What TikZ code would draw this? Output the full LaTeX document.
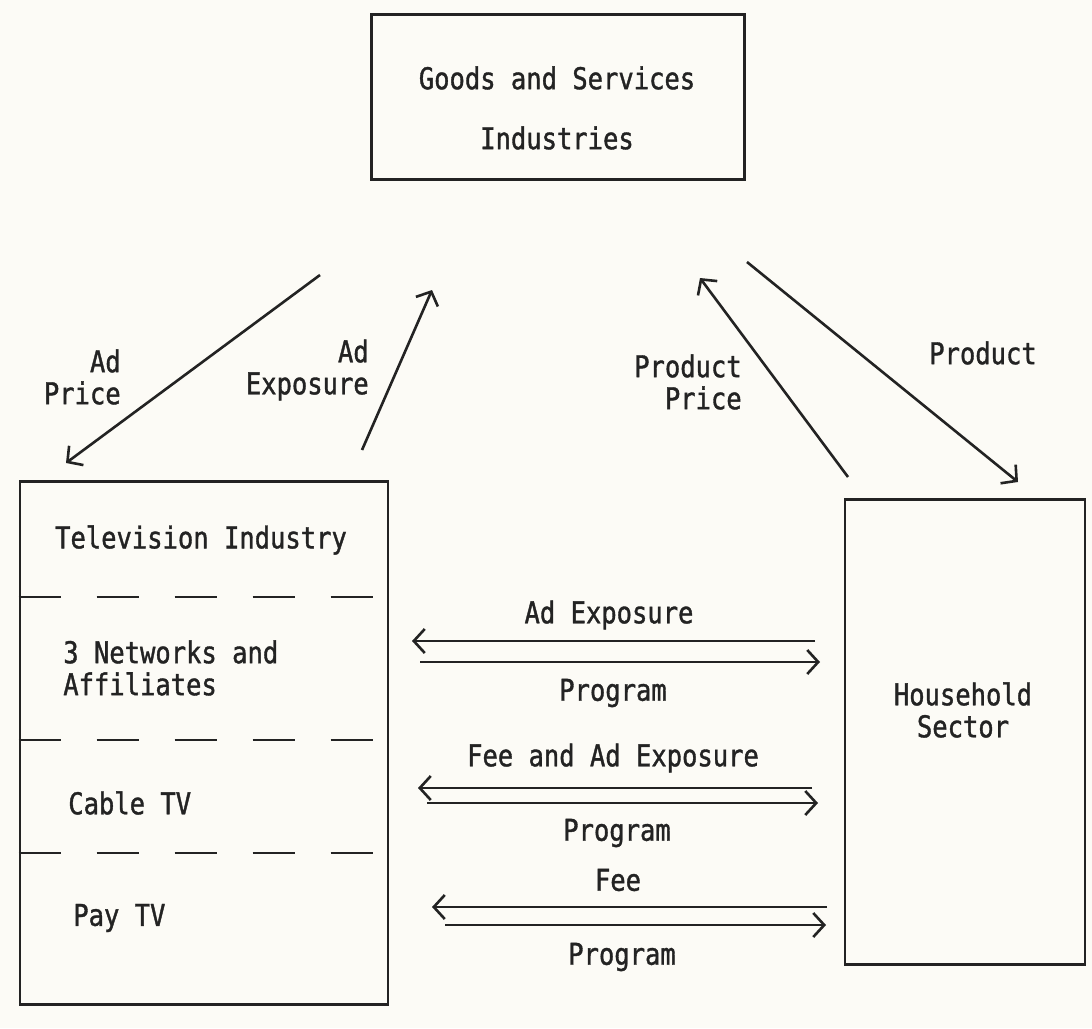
\documentclass[tikz,border=0pt]{standalone}
\usepackage{fontspec}
\setmonofont[FakeStretch=0.85,FakeBold=1.2]{DejaVu Sans Mono}
\usepackage{tikz}
\usetikzlibrary{arrows.meta,positioning}
\definecolor{ink}{RGB}{35,35,35}
\definecolor{paper}{RGB}{252,251,246}
\tikzset{box/.style={draw=ink,line width=2.7pt,rectangle,inner sep=0pt},
  txt/.style={text=ink,font=\ttfamily\fontsize{30}{32}\selectfont,inner sep=0pt}}

\begin{document}
\begin{tikzpicture}[x=1pt, y=-1pt, >={Straight Barb[length=11pt,width=24pt]}, line width=2.6pt, color=ink]
    \fill[paper] (0,0) rectangle (1092,1028);

    % sectors
    \node[box, minimum width=373pt, minimum height=165pt] (G) at (558,97) {};
    \node[txt, align=center] (Gt) at (557,108) {Goods and Services\\[28pt]Industries};
    \node[box, minimum width=368pt, minimum height=523pt] (T) at (204,743) {};
    \node[box, minimum width=240pt, minimum height=465pt] (H) at (965,732) {};
    \node[txt, align=center] (Ht) at (963,710) {Household\\Sector};

    % television industry and its parts
    \foreach \y in {597,740,853}
        \draw[dash pattern=on 42pt off 36pt, line width=2.6pt] (T.west |- 0,\y) -- (T.east |- 0,\y);
    \node[txt] (Tt) at (201,540) {Television Industry};
    \node[txt, anchor=west, align=left] (N) at (62,668) {3 Networks and\\Affiliates};
    \node[txt, anchor=west] (C) at (67,803) {Cable TV};
    \node[txt, anchor=west] (P) at (72,918) {Pay TV};

    % goods and services market
    \coordinate (a1) at (320,275);
    \coordinate (a2) at (66,463);
    \coordinate (b1) at (362,450);
    \coordinate (b2) at (432,290);
    \coordinate (c1) at (848,477);
    \coordinate (c2) at (700,278);
    \coordinate (d1) at (747,262);
    \coordinate (d2) at (1018,482);
    \path[->] (a1) edge (a2);
    \path[->] (b1) edge (b2);
    \path[->] (c1) edge (c2);
    \path[->] (d1) edge (d2);
    \node[txt, anchor=east, align=right] (AP) at (122,377) {Ad\\Price};
    \node[txt, anchor=east, align=right] (AE) at (370,370) {Ad\\Exposure};
    \node[txt, anchor=east, align=right] (PP) at (743,382) {Product\\Price};
    \node[txt] (PR) at (983,353) {Product};

    % television market
    \coordinate (e1) at (815,641);
    \coordinate (e2) at (412,641);
    \coordinate (e3) at (420,662);
    \coordinate (e4) at (820,662);
    \path[->] (e1) edge (e2);
    \path[->] (e3) edge (e4);
    \node[txt] (E1) at (609,615) {Ad Exposure};
    \node[txt] (E2) at (613,693) {Program};

    \coordinate (f1) at (812,788);
    \coordinate (f2) at (418,788);
    \coordinate (f3) at (427,803);
    \coordinate (f4) at (818,803);
    \path[->] (f1) edge (f2);
    \path[->] (f3) edge (f4);
    \node[txt] (F1) at (613,758) {Fee and Ad Exposure};
    \node[txt] (F2) at (617,833) {Program};

    \coordinate (g1) at (827,907);
    \coordinate (g2) at (432,907);
    \coordinate (g3) at (445,925);
    \coordinate (g4) at (826,925);
    \path[->] (g1) edge (g2);
    \path[->] (g3) edge (g4);
    \node[txt] (G1) at (618,880) {Fee};
    \node[txt] (G2) at (622,957) {Program};
\end{tikzpicture}
\end{document}
